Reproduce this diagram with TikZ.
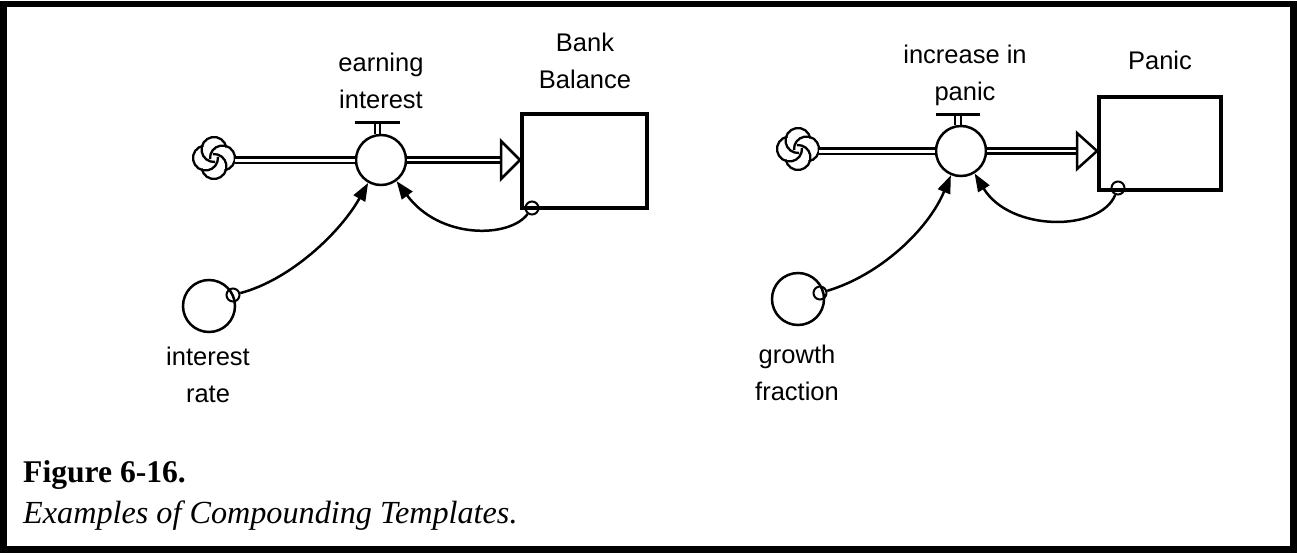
\documentclass[tikz,border=0pt]{standalone}
\usepackage{fontspec}
\newfontfamily\lblfont{Liberation Sans}
\newfontfamily\capfont{Liberation Serif}
\usetikzlibrary{arrows.meta}
\tikzset{
  cloudicon/.pic={
    \foreach \t in {90,0,270,180}{
      \draw[line width=2.3pt] ([shift={(\t:8.5pt)}]\t-80:12.5pt) arc[start angle=\t-80, end angle=\t+185, radius=12.5pt];
    }
  },
  cloudnode/.style={circle, inner sep=0pt, minimum size=42pt},
  valvebox/.style={circle, draw, fill=white, line width=2.5pt, inner sep=0pt, minimum size=50pt},
  auxbox/.style={circle, draw, fill=white, line width=2.5pt, inner sep=0pt, minimum size=52pt},
  tapbox/.style={circle, draw, line width=2pt, inner sep=0pt, minimum size=13pt},
  stockbox/.style={rectangle, draw, line width=4pt, inner sep=0pt},
  pipeA/.style={draw, line width=2.2pt, double=white, double distance=3pt},
  pipeB/.style={draw, line width=3pt, double=white, double distance=2pt},
  headbox/.style={draw, fill=white, line width=2.5pt, line join=miter},
  stemline/.style={draw, line width=2pt, double=white, double distance=3.5pt},
  barline/.style={draw, line width=3pt},
  link/.style={draw, line width=2.5pt, -{Triangle[length=18pt,width=13pt]}},
  lbl/.style={font=\lblfont\fontsize{25.5}{36.5}\selectfont, align=center, inner sep=0pt, anchor=base},
  frameline/.style={draw, line width=6.5pt}
}
\begin{document}
\begin{tikzpicture}[x=1pt,y=-1pt]
\useasboundingbox (0,0) rectangle (1297,554);
\draw[frameline] (3.5,4) rectangle (1293.5,549.5);

% ---------- left template ----------
\node[cloudnode] (c1) at (214,158) {};
\pic at (c1) {cloudicon};
\node[stockbox, minimum width=125pt, minimum height=94pt] (s1) at (584.5,161) {};
\node[valvebox] (v1) at (381,160) {};
\node[auxbox] (a1) at (209,306) {};
\node[tapbox] (t1) at (233,295) {};
\node[tapbox] (t2) at (532,208) {};
\draw[pipeA] (v1.west) -- (v1.west -| c1.east);
\draw[pipeB] (v1.east) -- ([xshift=-19pt]s1.west |- v1);
\draw[headbox] ([xshift=-19pt,yshift=-19pt]s1.west |- v1) -- (s1.west |- v1) -- ([xshift=-19pt,yshift=19pt]s1.west |- v1) -- cycle;
\draw[stemline] ([xshift=-3.5pt]v1.north) -- ++(0,-11);
\draw[barline] ([xshift=-26pt,yshift=11pt]v1.north) -- ([xshift=19pt,yshift=11pt]v1.north);
\draw[link] (t1) .. controls (290,280) and (340,233) .. (v1);
\draw[link] (t2) .. controls (510,238) and (440,240) .. (v1);
\node[lbl] (l1) at (381,108) {earning\\interest};
\node[lbl] (l2) at (585,88) {Bank\\Balance};
\node[lbl] (l3) at (208,402) {interest\\rate};

% ---------- right template ----------
\node[cloudnode] (c2) at (798,149) {};
\pic at (c2) {cloudicon};
\node[stockbox, minimum width=122pt, minimum height=93pt] (s2) at (1160,143.5) {};
\node[valvebox] (v2) at (961,151) {};
\node[auxbox] (a2) at (798,299) {};
\node[tapbox] (t3) at (820,293) {};
\node[tapbox] (t4) at (1118,188) {};
\draw[pipeA] (v2.west) -- (v2.west -| c2.east);
\draw[pipeB] (v2.east) -- ([xshift=-20pt]s2.west |- v2);
\draw[headbox] ([xshift=-20pt,yshift=-18pt]s2.west |- v2) -- (s2.west |- v2) -- ([xshift=-20pt,yshift=18pt]s2.west |- v2) -- cycle;
\draw[stemline] ([xshift=-3pt]v2.north) -- ++(0,-10);
\draw[barline] ([xshift=-25pt,yshift=10pt]v2.north) -- ([xshift=19pt,yshift=10pt]v2.north);
\draw[link] (t3) .. controls (880,275) and (928,230) .. (v2);
\draw[link] (t4) .. controls (1100,232) and (1010,232) .. (v2);
\node[lbl] (l4) at (965,100) {increase in\\panic};
\node[lbl] (l5) at (1160,69) {Panic};
\node[lbl] (l6) at (797,400) {growth\\fraction};

% ---------- caption ----------
\node[anchor=base west, inner sep=0pt, font=\capfont\bfseries\fontsize{31.6}{38}\selectfont] (cap1) at (23,482) {Figure 6-16.};
\node[anchor=base west, inner sep=0pt, font=\capfont\itshape\fontsize{32.2}{38}\selectfont] (cap2) at (23,523) {Examples of Compounding Templates.};
\end{tikzpicture}
\end{document}
